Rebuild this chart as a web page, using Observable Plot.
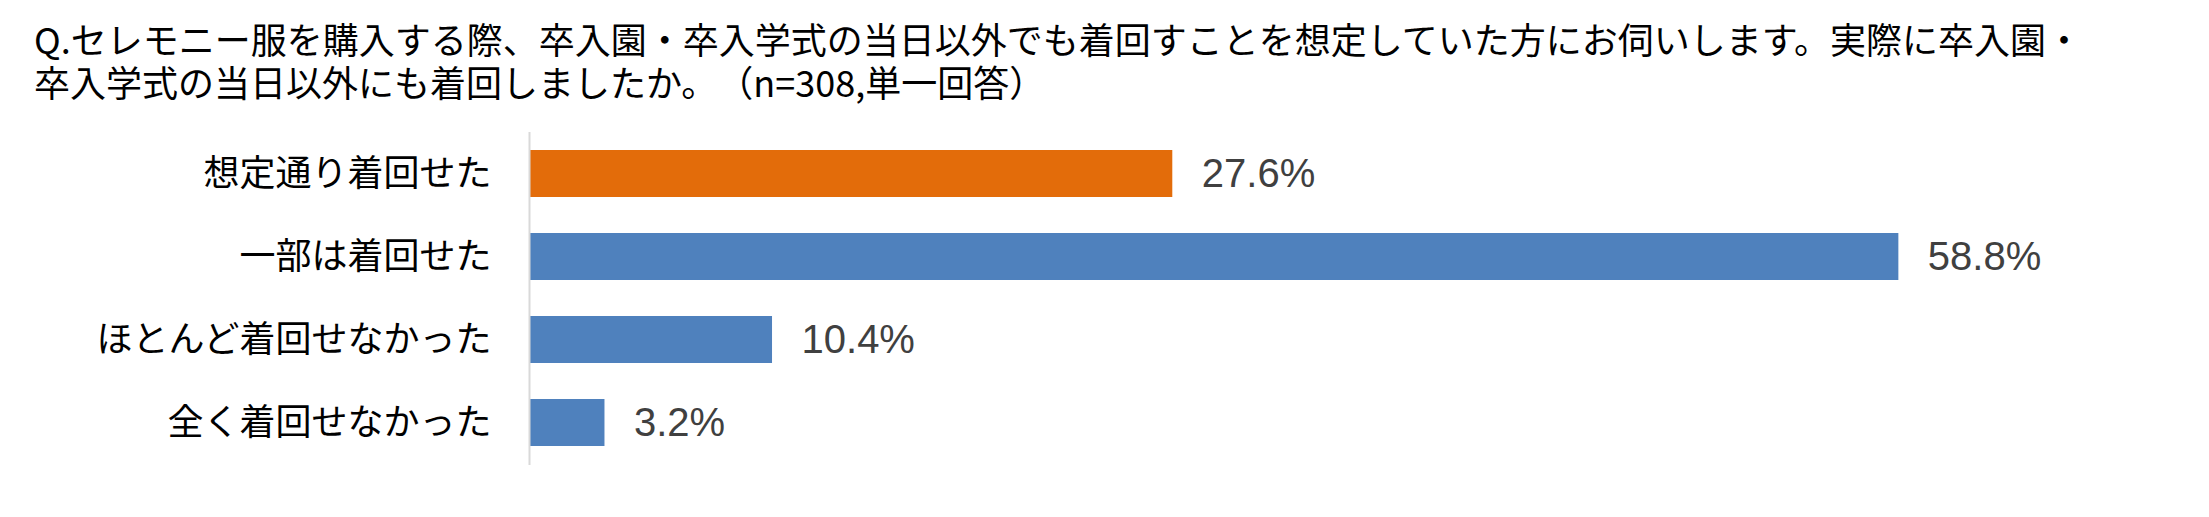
<!DOCTYPE html>
<html>
<head>
<meta charset="utf-8">
<script src="https://cdn.jsdelivr.net/npm/d3@7"></script>
<script src="https://cdn.jsdelivr.net/npm/@observablehq/plot@0.6"></script>
<style>
  html, body { margin: 0; padding: 0; background: #fff; }
  body { width: 2209px; height: 517px; overflow: hidden; }
  #title {
    box-sizing: border-box;
    height: 104px;
    padding: 17px 0 0 34px;
    font-family: "Noto Sans CJK JP", "Noto Sans", sans-serif;
    font-size: 36px;
    line-height: 43px;
    color: #000;
    white-space: pre;
    text-spacing-trim: space-all;
  }
  #chart svg { display: block; }
</style>
</head>
<body>
<div id="title"></div>
<div id="chart"></div>
<script>
const titleLines = [
  "Q.セレモニー服を購入する際、卒入園・卒入学式の当日以外でも着回すことを想定していた方にお伺いします。実際に卒入園・",
  "卒入学式の当日以外にも着回しましたか。（n=308,単一回答）"
];
const categories = ["想定通り着回せた", "一部は着回せた", "ほとんど着回せなかった", "全く着回せなかった"];
const values = [27.6, 58.8, 10.4, 3.2];

const data = categories.map((c, i) => ({category: c, value: values[i]}));

document.getElementById("title").textContent = titleLines.join("\n");

const ORANGE = "#E36C0A";
const BLUE = "#4F81BD";

const chart = Plot.plot({
  width: 2209,
  height: 413,
  marginLeft: 530,
  marginRight: 50,
  marginTop: 28,
  marginBottom: 52,
  style: {background: "#fff"},
  x: {domain: [0, 70], axis: null},
  y: {domain: categories, paddingInner: 0.43, paddingOuter: 0.215, label: null},
  marks: [
    Plot.barX(data, {
      y: "category",
      x: "value",
      fill: d => d.category === categories[0] ? ORANGE : BLUE
    }),
    Plot.ruleX([0], {stroke: "#d9d9d9", strokeWidth: 2, dx: -1}),
    Plot.text(data, {
      y: "category",
      x: "value",
      text: d => d3.format(".1f")(d.value) + "%",
      textAnchor: "start",
      dx: 29,
      fill: "#404040",
      fontSize: 40,
      fontFamily: "'Liberation Sans', Arial, Helvetica, sans-serif"
    }),
    Plot.axisY({
      tickSize: 0,
      tickPadding: 39,
      fontSize: 36,
      fill: "#000",
      fontFamily: "'Noto Sans CJK JP', 'Noto Sans', sans-serif",
      label: null
    })
  ]
});
document.getElementById("chart").appendChild(chart);
</script>
</body>
</html>
